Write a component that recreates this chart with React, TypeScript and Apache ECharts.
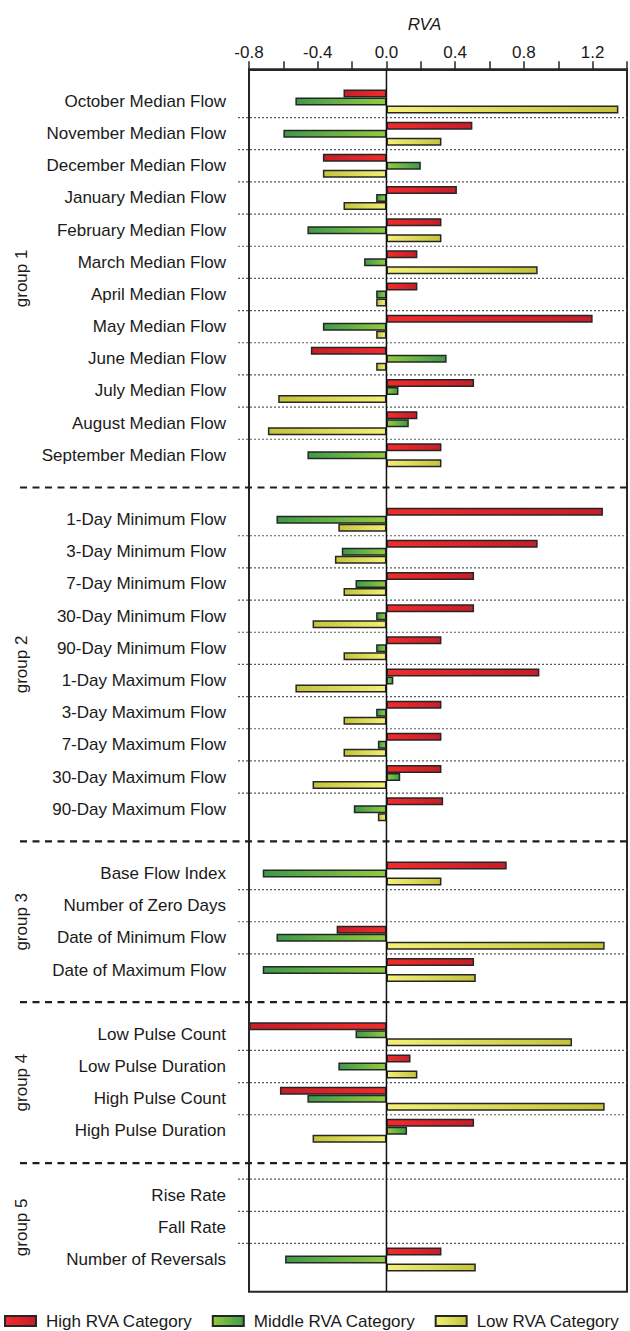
import React, { useEffect, useRef } from 'react';
import * as echarts from 'echarts';

// ---------- data ----------
const group1Cats = [
  'October Median Flow', 'November Median Flow', 'December Median Flow', 'January Median Flow',
  'February Median Flow', 'March Median Flow', 'April Median Flow', 'May Median Flow',
  'June Median Flow', 'July Median Flow', 'August Median Flow', 'September Median Flow',
];
const group2Cats = [
  '1-Day Minimum Flow', '3-Day Minimum Flow', '7-Day Minimum Flow', '30-Day Minimum Flow',
  '90-Day Minimum Flow', '1-Day Maximum Flow', '3-Day Maximum Flow', '7-Day Maximum Flow',
  '30-Day Maximum Flow', '90-Day Maximum Flow',
];
const group3Cats = ['Base Flow Index', 'Number of Zero Days', 'Date of Minimum Flow', 'Date of Maximum Flow'];
const group4Cats = ['Low Pulse Count', 'Low Pulse Duration', 'High Pulse Count', 'High Pulse Duration'];
const group5Cats = ['Rise Rate', 'Fall Rate', 'Number of Reversals'];
const groupNames = ['group 1', 'group 2', 'group 3', 'group 4', 'group 5'];

const high1 = [-0.25, 0.50, -0.37, 0.41, 0.32, 0.18, 0.18, 1.20, -0.44, 0.51, 0.18, 0.32];
const middle1 = [-0.53, -0.60, 0.20, -0.06, -0.46, -0.13, -0.06, -0.37, 0.35, 0.07, 0.13, -0.46];
const low1 = [1.35, 0.32, -0.37, -0.25, 0.32, 0.88, -0.06, -0.06, -0.06, -0.63, -0.69, 0.32];

const high2 = [1.26, 0.88, 0.51, 0.51, 0.32, 0.89, 0.32, 0.32, 0.32, 0.33];
const middle2 = [-0.64, -0.26, -0.18, -0.06, -0.06, 0.04, -0.06, -0.05, 0.08, -0.19];
const low2 = [-0.28, -0.30, -0.25, -0.43, -0.25, -0.53, -0.25, -0.25, -0.43, -0.05];

const high3 = [0.70, null, -0.29, 0.51];
const middle3 = [-0.72, null, -0.64, -0.72];
const low3 = [0.32, null, 1.27, 0.52];

const high4 = [-0.80, 0.14, -0.62, 0.51];
const middle4 = [-0.18, -0.28, -0.46, 0.12];
const low4 = [1.08, 0.18, 1.27, -0.43];

const high5 = [null, null, 0.32];
const middle5 = [null, null, -0.59];
const low5 = [null, null, 0.52];

const xMin = -0.8;
const xMax = 1.4;
const xTickStep = 0.2;
const seriesNames = ['High RVA Category', 'Middle RVA Category', 'Low RVA Category'];
// ---------- end data ----------

const groups = [
  { name: groupNames[0], cats: group1Cats, vals: [high1, middle1, low1], dottedAbove: false },
  { name: groupNames[1], cats: group2Cats, vals: [high2, middle2, low2], dottedAbove: false },
  { name: groupNames[2], cats: group3Cats, vals: [high3, middle3, low3], dottedAbove: false },
  { name: groupNames[3], cats: group4Cats, vals: [high4, middle4, low4], dottedAbove: false },
  { name: groupNames[4], cats: group5Cats, vals: [high5, middle5, low5], dottedAbove: true },
];

const palettes = [
  { base: '#f22b2b', tip: '#c61e29' },
  { base: '#92cb3e', tip: '#3d9a4a' },
  { base: '#f2f076', tip: '#c4c33a' },
];

const FONT = '"Liberation Sans", Arial, Helvetica, sans-serif';

function lin(c0: string, c1: string) {
  return {
    type: 'linear', x: 0, y: 0, x2: 1, y2: 0,
    colorStops: [{ offset: 0, color: c0 }, { offset: 1, color: c1 }],
  };
}

export default function App() {
  const ref = useRef<HTMLDivElement>(null);

  useEffect(() => {
    if (!ref.current) return;
    const chart = echarts.init(ref.current, null, { renderer: 'svg' });

    // build padded category list
    const cats: string[] = ['__pad_top'];
    const seriesVals: (number | null)[][] = [[null], [null], [null]];
    const groupIdx: { start: number; end: number; gap: number }[] = [];
    groups.forEach((g, gi) => {
      let gap = -1;
      if (gi > 0) {
        gap = cats.length;
        cats.push('__gap' + gi);
        seriesVals.forEach((s) => s.push(null));
      }
      const start = cats.length;
      g.cats.forEach((c, ci) => {
        cats.push(c);
        for (let s = 0; s < 3; s++) seriesVals[s].push(g.vals[s][ci]);
      });
      groupIdx.push({ start, end: cats.length - 1, gap });
    });
    cats.push('__pad_bottom');
    seriesVals.forEach((s) => s.push(null));

    const series = seriesVals.map((vals, si) => ({
      type: 'bar',
      name: seriesNames[si],
      barWidth: 8,
      barGap: '0%',
      itemStyle: {
        color: lin(palettes[si].base, palettes[si].tip),
        borderColor: '#262626',
        borderWidth: 1.5,
      },
      data: vals.map((v) =>
        v == null
          ? '-'
          : {
              value: v,
              itemStyle: {
                color: v >= 0 ? lin(palettes[si].base, palettes[si].tip) : lin(palettes[si].tip, palettes[si].base),
              },
            }
      ),
    }));

    const option: any = {
      animation: false,
      textStyle: { fontFamily: FONT },
      grid: {
        left: 249, right: 2.7, top: 69.3, bottom: 39.3,
        show: true, borderColor: '#262626', borderWidth: 2, backgroundColor: 'transparent',
      },
      legend: {
        top: 1312,
        left: 4,
        width: 626,
        padding: 0,
        icon: 'rect',
        itemWidth: 31,
        itemHeight: 10,
        itemGap: 19,
        data: seriesNames,
        textStyle: { fontSize: 17, color: '#1a1a1a', fontFamily: FONT, lineHeight: 18, padding: [0, 0, 0, 5] },
      },
      xAxis: {
        type: 'value',
        position: 'top',
        min: xMin,
        max: xMax,
        interval: xTickStep,
        name: 'RVA',
        nameLocation: 'middle',
        nameGap: 36,
        nameTextStyle: { fontSize: 17, fontStyle: 'italic', color: '#1a1a1a', fontFamily: FONT, padding: [0, 27, 0, 0] },
        axisLine: { show: true, lineStyle: { color: '#262626', width: 2 } },
        axisTick: { show: true, length: 8, lineStyle: { color: '#262626', width: 1.5 } },
        splitLine: { show: false },
        axisLabel: {
          fontSize: 17,
          color: '#1a1a1a',
          margin: 8,
          formatter: (v: number) => {
            const k = Math.round(v * 10);
            return k % 4 === 0 ? v.toFixed(1) : '';
          },
        },
      },
      yAxis: {
        type: 'category',
        inverse: true,
        boundaryGap: false,
        data: cats,
        axisLine: { show: false },
        axisTick: { show: false },
        splitLine: { show: false },
        axisLabel: {
          interval: 0,
          fontSize: 17,
          color: '#1a1a1a',
          margin: 23,
          formatter: (v: string) => (v.startsWith('__') ? '' : v),
        },
      },
      series,
    };
    chart.setOption(option);

    // decorations computed through the axes
    const yPix = (i: number) => chart.convertToPixel({ yAxisIndex: 0 }, i) as number;
    const xPix = (v: number) => chart.convertToPixel({ xAxisIndex: 0 }, v) as number;
    const xL = xPix(xMin);
    const xR = xPix(xMax);
    const x0 = xPix(0);
    const yTop = yPix(0);
    const yBot = yPix(cats.length - 1);
    const graphic: any[] = [];

    groupIdx.forEach((gi, k) => {
      // dotted separators between categories
      for (let i = gi.start; i < gi.end; i++) {
        const y = (yPix(i) + yPix(i + 1)) / 2;
        graphic.push({
          type: 'line', z: 5, silent: true,
          shape: { x1: xL - 11, y1: y, x2: xR, y2: y },
          style: { stroke: '#5a5a5a', lineWidth: 1.2, lineDash: [2, 2] },
        });
      }
      if (groups[k].dottedAbove) {
        const y = (yPix(gi.start) + yPix(gi.start - 1)) / 2;
        graphic.push({
          type: 'line', z: 5, silent: true,
          shape: { x1: xL - 11, y1: y, x2: xR, y2: y },
          style: { stroke: '#5a5a5a', lineWidth: 1.2, lineDash: [2, 2] },
        });
      }
      // dashed group separator
      if (gi.gap >= 0) {
        const y = yPix(gi.gap);
        graphic.push({
          type: 'line', z: 6, silent: true,
          shape: { x1: 20, y1: y, x2: 630, y2: y },
          style: { stroke: '#1e1e1e', lineWidth: 2.2, lineDash: [7, 5.5] },
        });
      }
      // group label
      const yc = (yPix(gi.start) + yPix(gi.end)) / 2;
      graphic.push({
        type: 'text', z: 6, silent: true,
        x: 21, y: yc, rotation: Math.PI / 2,
        style: {
          text: groups[k].name, fontSize: 17, fontFamily: FONT, fill: '#1a1a1a',
          align: 'center', verticalAlign: 'middle',
        },
      });
    });

    // zero line
    graphic.push({
      type: 'line', z: 10, silent: true,
      shape: { x1: x0, y1: yTop, x2: x0, y2: yBot },
      style: { stroke: '#111', lineWidth: 1.5 },
    });

    chart.setOption({ graphic });

    return () => chart.dispose();
  }, []);

  return <div ref={ref} style={{ position: 'absolute', left: 0, top: 0, width: 630, height: 1331 }} />;
}
